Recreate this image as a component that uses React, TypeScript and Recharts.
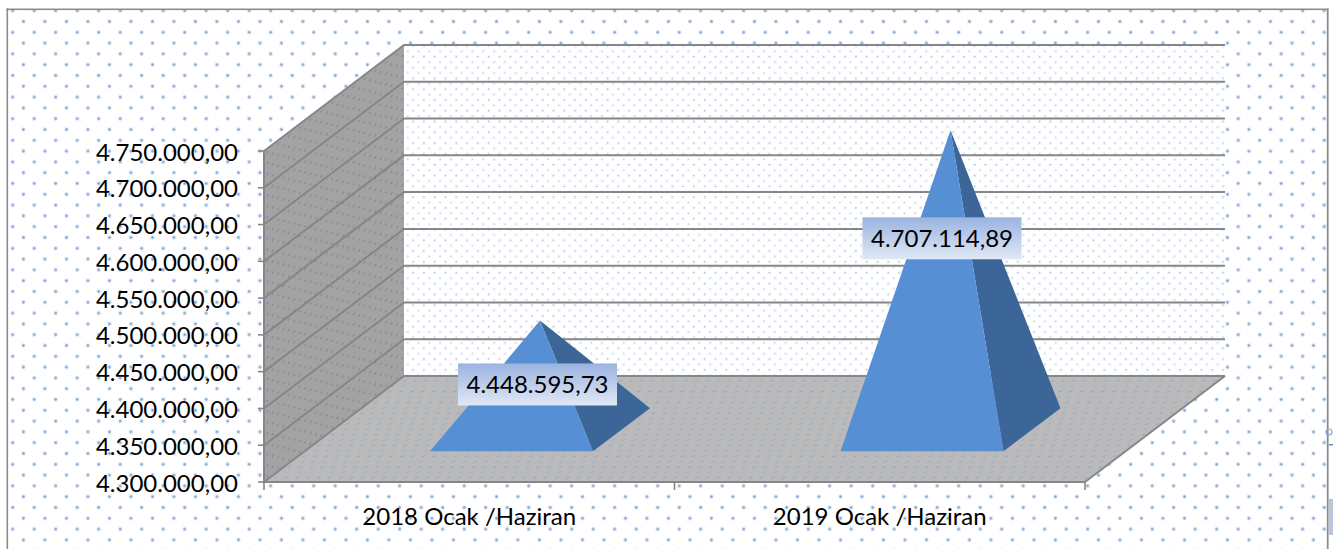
import React from 'react';
import {BarChart, Bar, XAxis, YAxis, LabelList, Customized, usePlotArea} from 'recharts';

const categories = ['2018 Ocak /Haziran', '2019 Ocak /Haziran'];
const totals = [4448595.73, 4707114.89];
const yTicks = [4300000, 4350000, 4400000, 4450000, 4500000, 4550000, 4600000, 4650000, 4700000, 4750000];
// label boxes were dragged by hand in the original, offset from each apex
const labelShiftX = [-2.5, -8.5];
const labelDrop = [64, 108];

const data = categories.map((name, i) => ({name, total: totals[i]}));

const WIDTH = 1333;
const HEIGHT = 549;
const DEPTH_X = 140;
const DEPTH_Y = 106;
const LINE = '#868686';
const FONT = 'Lato, "Open Sans", sans-serif';
const FONT_SIZE = 24;

const fmt = (v: number) =>
    new Intl.NumberFormat('tr-TR', {minimumFractionDigits: 2, maximumFractionDigits: 2}).format(v);

const Backdrop = () => (
    <svg width={WIDTH} height={HEIGHT} style={{position: 'absolute', left: 0, top: 0}}>
        <defs>
            <pattern id="pageDots" patternUnits="userSpaceOnUse" x={7.3} y={5.3} width={21.5} height={21.6}>
                <circle cx={5.4} cy={5.4} r={2.4} fill="#e4edf8"/>
                <circle cx={5.4} cy={5.4} r={1.15} fill="#6d9ad3"/>
                <circle cx={16.15} cy={16.2} r={2.4} fill="#e4edf8"/>
                <circle cx={16.15} cy={16.2} r={1.15} fill="#6d9ad3"/>
            </pattern>
        </defs>
        <rect width={WIDTH} height={HEIGHT} fill="#fff"/>
        <rect x={8} y={10} width={1319} height={HEIGHT - 10} fill="url(#pageDots)"/>
        <rect x={6.5} y={8.5} width={1.6} height={HEIGHT - 8.5} fill="#8c8c8c"/>
        <rect x={6.5} y={8.5} width={1322} height={1.6} fill="#8c8c8c"/>
        <rect x={1326.8} y={8.5} width={1.8} height={HEIGHT - 8.5} fill="#8c8c8c"/>
        <rect x={1329} y={499} width={4} height={36} fill="#b9c6dc"/>
        <rect x={1329} y={444} width={4} height={1.5} fill="#5b8fd0"/>
        <circle cx={1329} cy={432} r={3} fill="none" stroke="#7fa6da" strokeWidth={1.2}/>
    </svg>
);

const Walls = () => {
    const plot = usePlotArea();
    if (!plot) return null;
    const min = yTicks[0];
    const max = yTicks[yTicks.length - 1];
    const yOf = (t: number) => plot.y + plot.height * (1 - (t - min) / (max - min));
    const left = plot.x;
    const right = plot.x + plot.width;
    const top = plot.y;
    const bottom = plot.y + plot.height;
    const bandEdges = [0, ...categories.map((_, i) => i + 1)].map(i => left + plot.width * i / categories.length);
    return (
        <g>
            <defs>
                <pattern id="wallDots" patternUnits="userSpaceOnUse" width={10.8} height={10.8}>
                    <circle cx={2.7} cy={2.7} r={1.5} fill="#e6eef9"/>
                    <circle cx={2.7} cy={2.7} r={0.8} fill="#a9c3e6"/>
                    <circle cx={8.1} cy={8.1} r={1.5} fill="#edf3fb"/>
                    <circle cx={8.1} cy={8.1} r={0.8} fill="#bdd1ec"/>
                </pattern>
                <pattern id="sideDots" patternUnits="userSpaceOnUse" width={10.8} height={10.8}
                         patternTransform="skewY(-37)">
                    <circle cx={2.7} cy={2.7} r={1} fill="#7c889c"/>
                    <circle cx={8.1} cy={8.1} r={1} fill="#7c889c"/>
                </pattern>
                <pattern id="floorDots" patternUnits="userSpaceOnUse" width={10.8} height={10.8}
                         patternTransform="skewX(-53)">
                    <ellipse cx={2.7} cy={2.7} rx={1.7} ry={0.9} fill="#98abc6"/>
                    <ellipse cx={8.1} cy={8.1} rx={1.7} ry={0.9} fill="#a2b3cb"/>
                </pattern>
            </defs>
            <rect x={left + DEPTH_X} y={top - DEPTH_Y} width={plot.width} height={plot.height} fill="#fff"/>
            <rect x={left + DEPTH_X} y={top - DEPTH_Y} width={plot.width} height={plot.height} fill="url(#wallDots)"/>
            {['#a3a3a3', 'url(#sideDots)'].map(fill => (
                <polygon key={fill} fill={fill}
                         points={`${left},${top} ${left + DEPTH_X},${top - DEPTH_Y} ${left + DEPTH_X},${bottom - DEPTH_Y} ${left},${bottom}`}/>
            ))}
            {['#bababa', 'url(#floorDots)'].map(fill => (
                <polygon key={fill} fill={fill}
                         points={`${left},${bottom} ${right},${bottom} ${right + DEPTH_X},${bottom - DEPTH_Y} ${left + DEPTH_X},${bottom - DEPTH_Y}`}/>
            ))}
            {yTicks.map(t => (
                <polyline key={t} fill="none" stroke={LINE} strokeWidth={2}
                          points={`${left},${yOf(t)} ${left + DEPTH_X},${yOf(t) - DEPTH_Y} ${right + DEPTH_X},${yOf(t) - DEPTH_Y}`}/>
            ))}
            <line x1={right} y1={bottom} x2={right + DEPTH_X} y2={bottom - DEPTH_Y} stroke={LINE} strokeWidth={2}/>
            {/* category ticks sit on the band edges, not under the labels */}
            {bandEdges.map(x => (
                <line key={x} x1={x} y1={bottom} x2={x} y2={bottom + 8} stroke={LINE} strokeWidth={1.6}/>
            ))}
        </g>
    );
};

// square pyramid standing halfway into the floor depth
const Pyramid = (props: any) => {
    const {x, width, height, y} = props;
    const baseFront = y + height - DEPTH_Y * 0.29;
    const frontLeft = x + DEPTH_X * 0.3;
    const frontRight = frontLeft + width;
    const backRight = frontRight + 57;
    const backY = baseFront - 43;
    const apexX = frontLeft + width / 2 + 28.5;
    const apexY = baseFront - 21.5 - height;
    return (
        <g>
            <polygon points={`${frontRight},${baseFront} ${backRight},${backY} ${apexX},${apexY}`} fill="#3c6698"/>
            <polygon points={`${frontLeft},${baseFront} ${frontRight},${baseFront} ${apexX},${apexY}`} fill="#568fd3"/>
        </g>
    );
};

const ValueLabel = (props: any) => {
    const {x, y, width, height, value, index} = props;
    const apexX = x + DEPTH_X * 0.3 + width / 2 + 28.5;
    const apexY = y + height - DEPTH_Y * 0.29 - 21.5 - height;
    const cx = apexX + labelShiftX[index];
    const cy = apexY + labelDrop[index];
    return (
        <g>
            <rect x={cx - 79.5} y={cy - 21} width={159} height={42} fill="url(#labelFill)"/>
            <text x={cx} y={cy + 9} textAnchor="middle" fontFamily={FONT} fontSize={FONT_SIZE} fill="#000">{fmt(value)}</text>
        </g>
    );
};

export default function App() {
    return (
        <div style={{position: 'absolute', left: 0, top: 0, width: WIDTH, height: HEIGHT}}>
            <Backdrop/>
            <div style={{position: 'absolute', left: 0, top: 0}}>
                <BarChart width={WIDTH} height={HEIGHT} data={data} barSize={163}
                          margin={{top: 151, right: 248, left: 0, bottom: 0}}>
                    <defs>
                        <linearGradient id="labelFill" x1="0" y1="0" x2="0" y2="1">
                            <stop offset="0%" stopColor="#9ab3e0"/>
                            <stop offset="100%" stopColor="#e1e8f6"/>
                        </linearGradient>
                    </defs>
                    <Customized component={Walls}/>
                    <XAxis dataKey="name" height={67} tickSize={8} tickMargin={18} interval={0}
                           axisLine={{stroke: LINE, strokeWidth: 2}} tickLine={{stroke: 'none'}}
                           tick={{fill: '#000', fontFamily: FONT, fontSize: FONT_SIZE}}/>
                    <YAxis width={264} domain={[4300000, 4750000]} ticks={yTicks} tickFormatter={fmt} interval={0}
                           tickSize={6} tickMargin={20}
                           axisLine={{stroke: LINE, strokeWidth: 2}} tickLine={{stroke: LINE, strokeWidth: 1.6}}
                           tick={{fill: '#000', fontFamily: FONT, fontSize: FONT_SIZE, dy: 1}}/>
                    <Bar dataKey="total" shape={<Pyramid/>} isAnimationActive={false}>
                        <LabelList dataKey="total" content={<ValueLabel/>}/>
                    </Bar>
                </BarChart>
            </div>
        </div>
    );
}
